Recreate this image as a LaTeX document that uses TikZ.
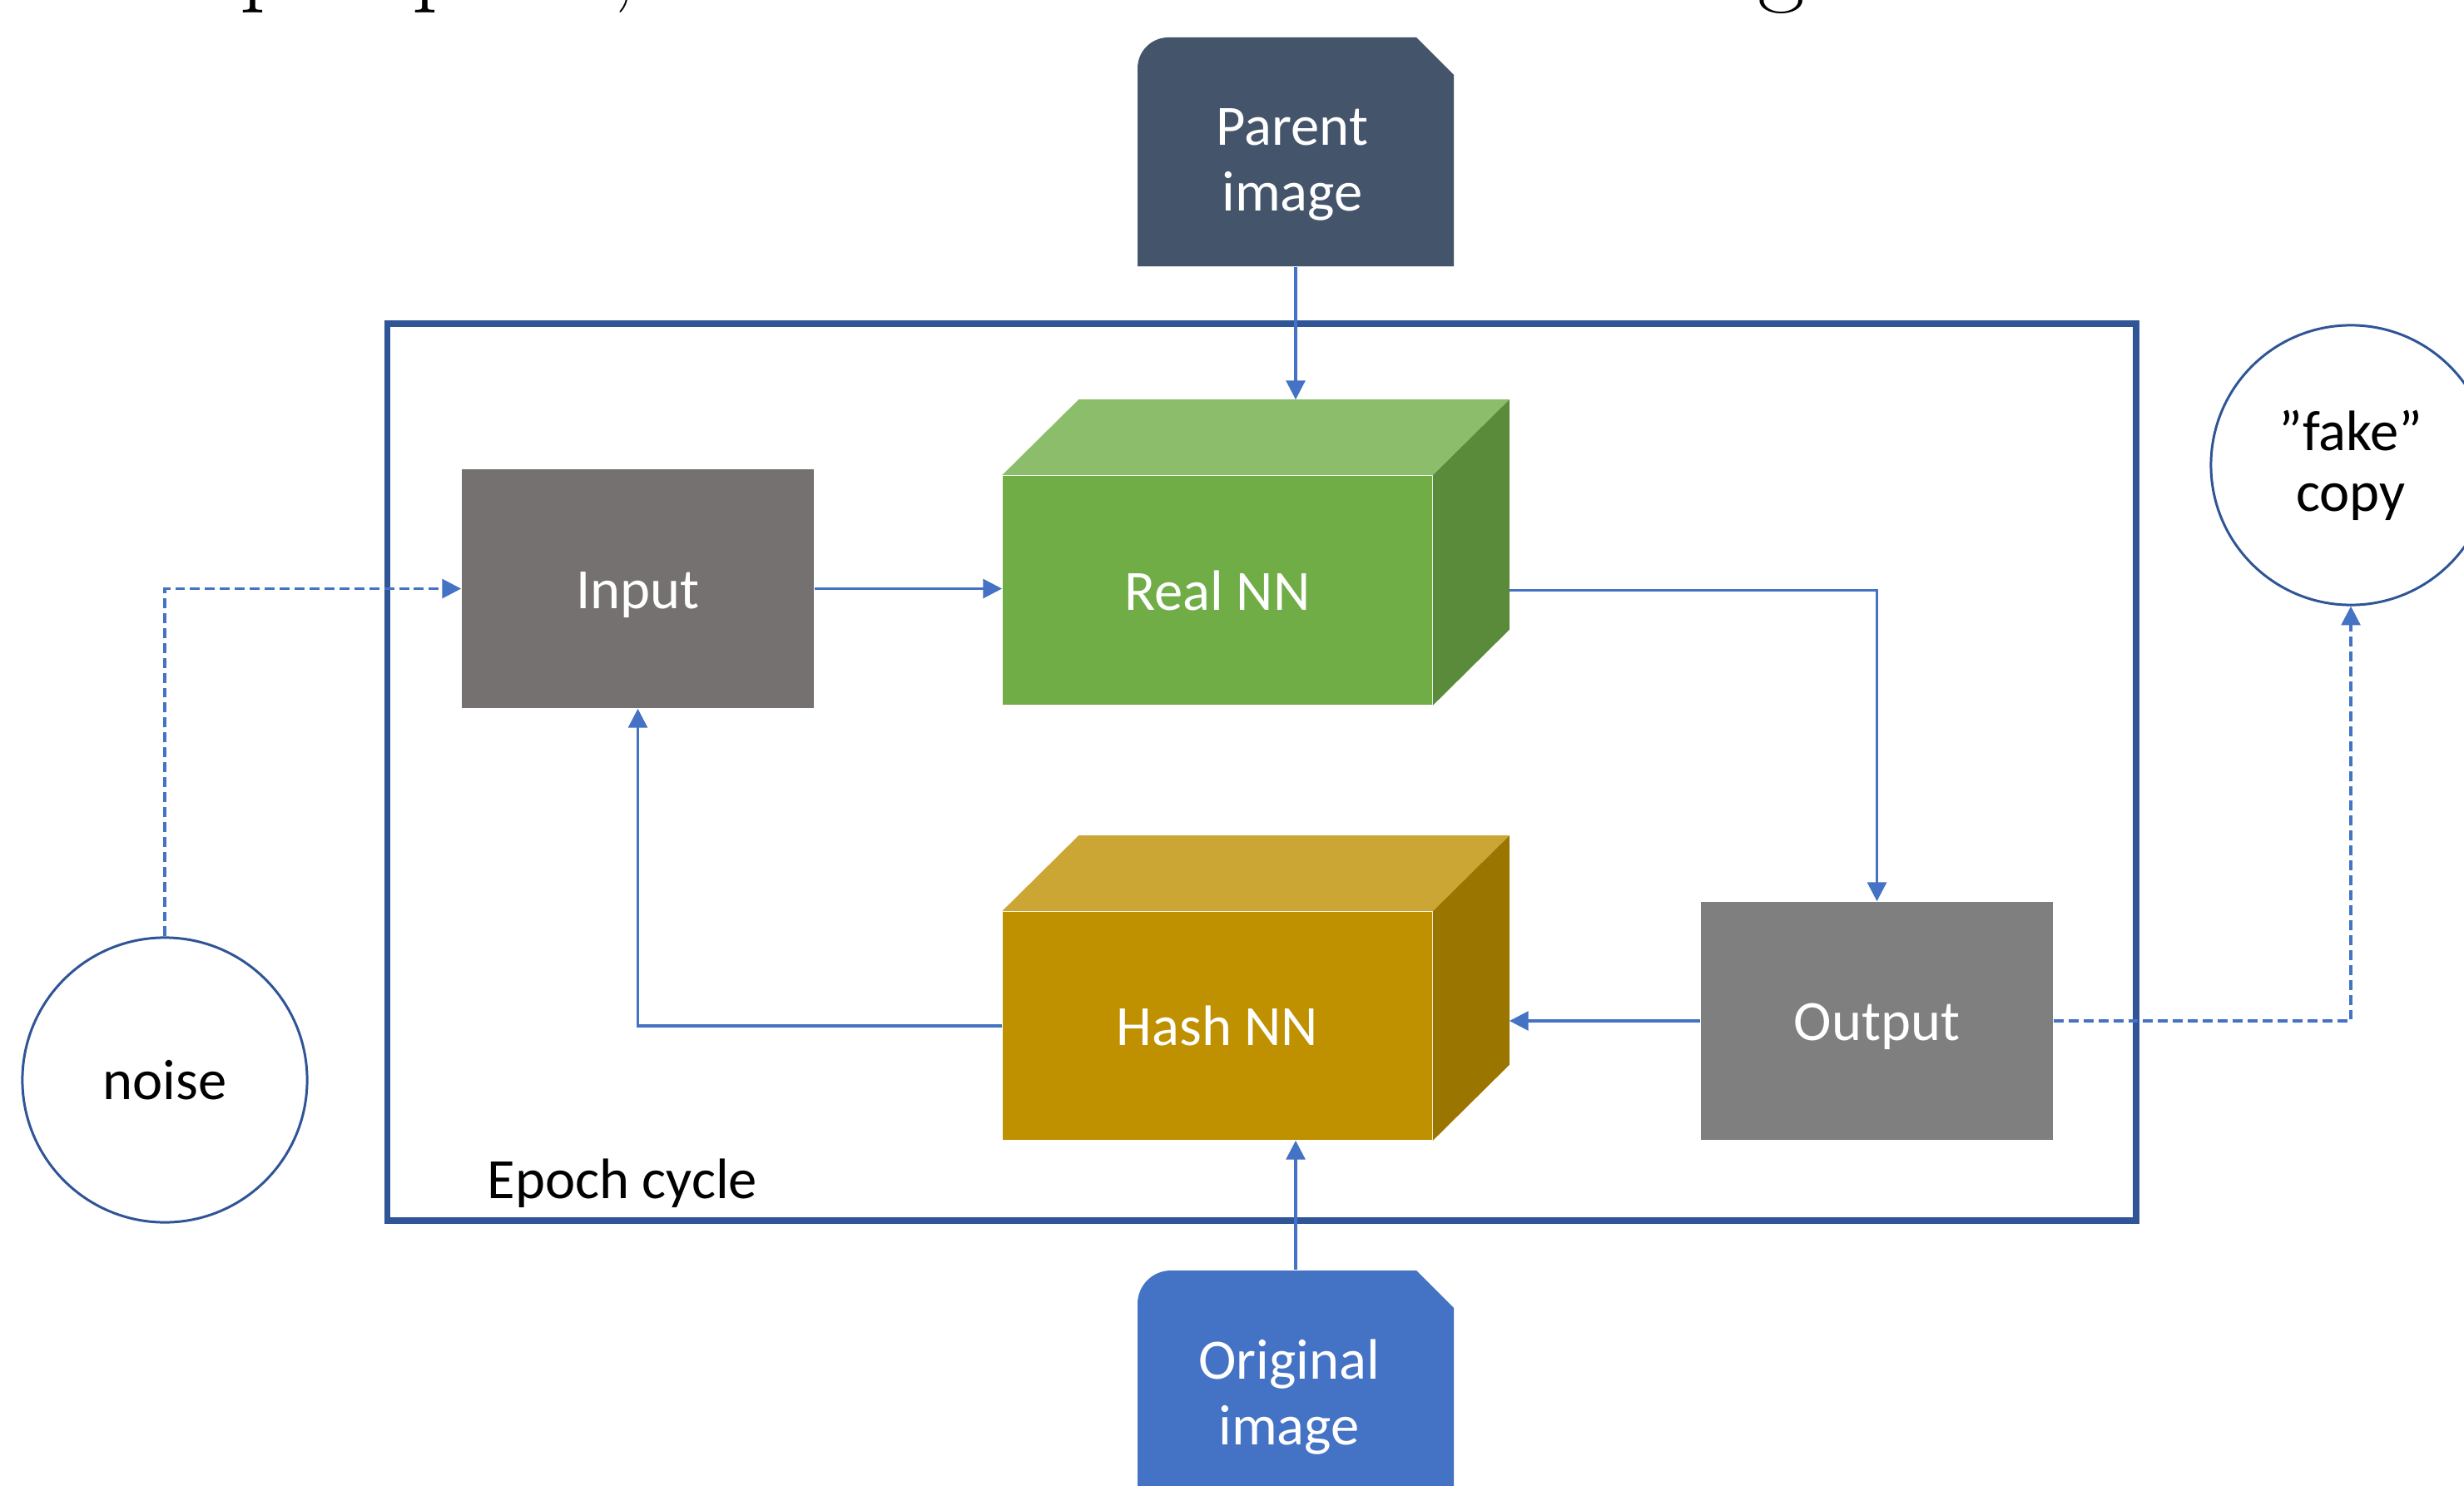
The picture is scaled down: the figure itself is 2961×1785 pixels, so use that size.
\documentclass[tikz,border=0pt]{standalone}
\usepackage{fontspec}
\newfontfamily\calib{Carlito}
\usetikzlibrary{arrows.meta}

\definecolor{slate}{HTML}{44546A}
\definecolor{origblue}{HTML}{4472C4}
\definecolor{wire}{HTML}{4472C4}
\definecolor{frame}{HTML}{2F5597}
\definecolor{inputgrey}{HTML}{767171}
\definecolor{outputgrey}{HTML}{7F7F7F}
\definecolor{greenfront}{HTML}{70AD47}
\definecolor{greentop}{HTML}{8CBD6B}
\definecolor{greenside}{HTML}{5A8B3A}
\definecolor{goldfront}{HTML}{BF9000}
\definecolor{goldtop}{HTML}{CBA635}
\definecolor{goldside}{HTML}{9A7500}

\tikzset{
  txt/.style={font=\calib\fontsize{19.5}{22.5}\selectfont},
  oneline/.style={txt, text height=18.6pt, text depth=5.2pt},
  flatbox/.style={rectangle, inner sep=0pt, oneline, text=white},
  ring/.style={circle, draw=frame, line width=0.85pt, inner sep=0pt, fill=white},
  link/.style={draw=wire, line width=0.95pt, -{Triangle[length=6.5pt,width=6.5pt]}},
  dlink/.style={link, dash pattern=on 3.4pt off 1.7pt},
  running/.style={anchor=base west, inner sep=0pt, font=\fontsize{35}{42}\selectfont}
}

\begin{document}
\begin{tikzpicture}[x=0.01cm, y=-0.01cm]
\useasboundingbox (0,0) rectangle (2961,1785);
\clip (0,0) rectangle (2961,1785);

% line of running text above the figure, cut by the top edge
\node[running] (runa) at (288,-8.5) {put pairs,};
\node[running] (runb) at (2112,-8.5) {g};

% epoch frame
\node[rectangle, draw=frame, line width=2.2pt, minimum width=21.0cm, minimum height=10.78cm, inner sep=0pt] (epoch) at (1516,928) {};
\node[txt, anchor=base west, inner sep=0pt] (epochlbl) at (585,1440) {Epoch cycle};

% parent image card (rounded top-left, snipped top-right)
\fill[slate] (1367,320) -- (1367,82) .. controls (1367,61.6) and (1383.6,45) .. (1404,45)
  -- (1702,45) -- (1747,90) -- (1747,320) -- cycle;
\node[rectangle, inner sep=0pt, minimum width=3.80cm, minimum height=2.75cm] (parent) at (1557,182.5) {};
\node[txt, text=white, align=center, inner sep=0pt] (parentlbl) at (1553,198) {Parent\\image};

% original image card, running off the bottom
\fill[origblue] (1367,1800) -- (1367,1567) .. controls (1367,1544.9) and (1384.9,1527) .. (1407,1527)
  -- (1702,1527) -- (1747,1572) -- (1747,1800) -- cycle;
\node[rectangle, inner sep=0pt, minimum width=3.80cm, minimum height=2.73cm] (orig) at (1557,1663.5) {};
\node[txt, text=white, align=center, inner sep=0pt] (origlbl) at (1549,1679) {Original\\image};

% flat boxes
\node[flatbox, fill=inputgrey, minimum width=4.23cm, minimum height=2.87cm] (input) at (766.5,707.5) {Input};
\node[flatbox, fill=outputgrey, minimum width=4.23cm, minimum height=2.86cm] (output) at (2255.5,1227) {Output};

% Real NN block
\node[flatbox, fill=greenfront, minimum width=5.16cm, minimum height=2.75cm] (real) at (1463,709.5) {Real NN};
\coordinate (realbtl) at ([shift={(92,-91)}]real.north west);
\coordinate (realbtr) at ([shift={(92,-91)}]real.north east);
\coordinate (realbbr) at ([shift={(92,-91)}]real.south east);
\fill[greentop] (real.north west) -- (realbtl) -- (realbtr) -- (real.north east) -- cycle;
\fill[greenside] (real.north east) -- (realbtr) -- (realbbr) -- (real.south east) -- cycle;
\coordinate (realside) at (realbtr |- real.east);

% Hash NN block
\node[flatbox, fill=goldfront, minimum width=5.16cm, minimum height=2.74cm] (hash) at (1463,1233) {Hash NN};
\coordinate (hashbtl) at ([shift={(92,-91)}]hash.north west);
\coordinate (hashbtr) at ([shift={(92,-91)}]hash.north east);
\coordinate (hashbbr) at ([shift={(92,-91)}]hash.south east);
\fill[goldtop] (hash.north west) -- (hashbtl) -- (hashbtr) -- (hash.north east) -- cycle;
\fill[goldside] (hash.north east) -- (hashbtr) -- (hashbbr) -- (hash.south east) -- cycle;

% outside circles
\node[ring, oneline, minimum size=3.42cm] (noise) at (198,1298) {noise};
\node[ring, txt, align=center, minimum size=3.36cm,
      font=\calib\fontsize{19.5}{20.8}\selectfont] (fake) at (2825,559) {”fake”\\copy};

% connectors
\draw[link] (parent.south) -- (parent.south |- realbtl);
\draw[link] (input.east) -- (input.east -| real.west);
\draw[link] (realside) -| (output.north);
\draw[link] (output.west) -- (output.west -| hashbtr);
\draw[link] (hash.west) -| (input.south);
\draw[link] (orig.north) -- (orig.north |- hash.south);
\draw[dlink] (noise.north) |- (input.west);
\draw[dlink] (output.east) -| (fake.south);
\end{tikzpicture}
\end{document}
